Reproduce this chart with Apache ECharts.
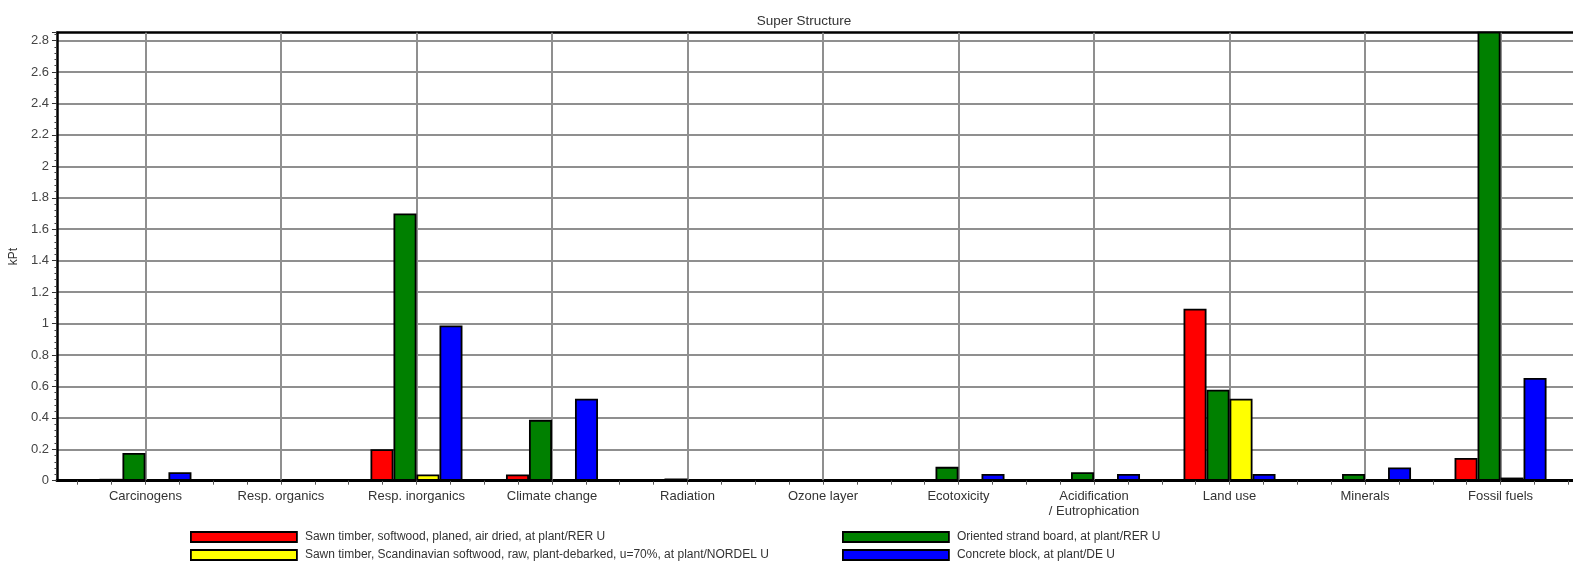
<!DOCTYPE html>
<html>
<head>
<meta charset="utf-8">
<script src="https://cdn.jsdelivr.net/npm/echarts@6/dist/echarts.min.js"></script>
<style>
html,body{margin:0;padding:0;background:#fff;}
#chart{width:1573px;height:561px;}
</style>
</head>
<body>
<div id="chart"></div>
<script>
// ---- data ----
const categories = ['Carcinogens', 'Resp. organics', 'Resp. inorganics', 'Climate change', 'Radiation', 'Ozone layer', 'Ecotoxicity', 'Acidification\n/ Eutrophication', 'Land use', 'Minerals', 'Fossil fuels'];
const seriesNames = [
  'Sawn timber, softwood, planed, air dried, at plant/RER U',
  'Oriented strand board, at plant/RER U',
  'Sawn timber, Scandinavian softwood, raw, plant-debarked, u=70%, at plant/NORDEL U',
  'Concrete block, at plant/DE U'
];
const sawnPlaned = [0.012, 0.002, 0.200, 0.039, 0.002, 0.002, 0.008, 0.007, 1.094, 0.007, 0.145];
const osb        = [0.177, 0.006, 1.700, 0.387, 0.014, 0.002, 0.088, 0.054, 0.579, 0.043, 2.950];
const sawnScand  = [0.002, 0.002, 0.039, 0.006, 0.002, 0.002, 0.002, 0.002, 0.521, 0.002, 0.020];
const concrete   = [0.054, 0.002, 0.988, 0.521, 0.008, 0.002, 0.043, 0.043, 0.043, 0.084, 0.653];
const yMin = 0, yMax = 2.85, yInterval = 0.2;
const title = 'Super Structure';
const yName = 'kPt';

const colors = ['#ff0000', '#008000', '#ffff00', '#0000ff'];
const values = [sawnPlaned, osb, sawnScand, concrete];
const FONT = 'Liberation Sans, Arial, sans-serif';

const chart = echarts.init(document.getElementById('chart'), null, {renderer: 'canvas'});

const barSeries = values.map((v, i) => ({
  name: seriesNames[i],
  type: 'bar',
  xAxisIndex: 2,
  yAxisIndex: 1,
  data: v,
  barWidth: 23,
  barGap: '0%',
  z: 3,
  itemStyle: {color: colors[i], borderColor: '#000', borderWidth: 1.8},
  emphasis: {disabled: true}
}));

// vertical grid lines through category centres
const gridLineSeries = {
  name: 'vgrid',
  type: 'line',
  xAxisIndex: 2,
  yAxisIndex: 1,
  data: [],
  z: 1,
  silent: true,
  markLine: {
    silent: true,
    symbol: 'none',
    z: 1,
    animation: false,
    label: {show: false},
    lineStyle: {color: '#8f8f8f', width: 2, type: 'solid'},
    data: categories.map(c => ({xAxis: c}))
  }
};

const option = {
  animation: false,
  backgroundColor: '#fff',
  textStyle: {fontFamily: FONT},
  title: {
    text: title,
    left: 799,
    top: 9,
    textAlign: 'center',
    textStyle: {fontSize: 13.5, fontWeight: 'normal', color: '#333', fontFamily: FONT}
  },
  legend: [
    {
      left: 190, top: 531, orient: 'vertical', padding: 0,
      itemWidth: 106, itemHeight: 10, itemGap: 6,
      icon: 'rect',
      data: [seriesNames[0], seriesNames[2]],
      itemStyle: {borderColor: '#000', borderWidth: 1.8},
      textStyle: {fontSize: 12, color: '#333', fontFamily: FONT, padding: [0, 0, 0, 3]}
    },
    {
      left: 842, top: 531, orient: 'vertical', padding: 0,
      itemWidth: 106, itemHeight: 10, itemGap: 6,
      icon: 'rect',
      data: [seriesNames[1], seriesNames[3]],
      itemStyle: {borderColor: '#000', borderWidth: 1.8},
      textStyle: {fontSize: 12, color: '#333', fontFamily: FONT, padding: [0, 0, 0, 3]}
    }
  ],
  grid: [
    {left: 55, top: 32.7, width: 1560, height: 448},
    {left: 77.7, top: 32.7, width: 1490.6, height: 448}
  ],
  xAxis: [
    { // frame bottom
      gridIndex: 0, type: 'value', min: 0, max: 1, position: 'bottom',
      axisLine: {show: true, onZero: false, lineStyle: {color: '#000', width: 3}},
      axisTick: {show: false}, axisLabel: {show: false}, splitLine: {show: false}
    },
    { // frame top
      gridIndex: 0, type: 'value', min: 0, max: 1, position: 'top',
      axisLine: {show: true, onZero: false, lineStyle: {color: '#000', width: 2.5}},
      axisTick: {show: false}, axisLabel: {show: false}, splitLine: {show: false}
    },
    { // categories
      gridIndex: 1, type: 'category', data: categories, boundaryGap: true, position: 'bottom',
      axisLine: {show: false}, axisTick: {show: false}, splitLine: {show: false},
      axisLabel: {show: true, interval: 0, margin: 8, fontSize: 13, lineHeight: 15, color: '#333', fontFamily: FONT, align: 'center'}
    },
    { // quarter ticks
      gridIndex: 1, type: 'value', min: 0, max: 44, interval: 1, position: 'bottom',
      axisLine: {show: false, onZero: false},
      axisTick: {show: true, length: 4, lineStyle: {color: '#555', width: 1}},
      axisLabel: {show: false}, splitLine: {show: false}
    }
  ],
  yAxis: [
    {
      gridIndex: 0, type: 'value', min: yMin, max: yMax, interval: yInterval,
      name: yName, nameLocation: 'middle', nameGap: 28, nameRotate: 90,
      nameTextStyle: {fontSize: 12, color: '#333', fontFamily: FONT},
      axisLine: {show: true, lineStyle: {color: '#000', width: 2.5}},
      axisTick: {show: true, length: 5, lineStyle: {color: '#333', width: 1}},
      minorTick: {show: true, splitNumber: 5, length: 2.5, lineStyle: {color: '#444', width: 1}},
      axisLabel: {margin: 8, fontSize: 13, color: '#444', fontFamily: FONT, showMaxLabel: false},
      splitLine: {show: true, showMinLine: false, showMaxLine: false, lineStyle: {color: '#8f8f8f', width: 2}}
    },
    {
      gridIndex: 1, type: 'value', min: yMin, max: yMax, interval: yInterval, show: false,
      splitLine: {show: false}
    }
  ],
  series: barSeries.concat([gridLineSeries])
};
chart.setOption(option);
</script>
</body>
</html>
